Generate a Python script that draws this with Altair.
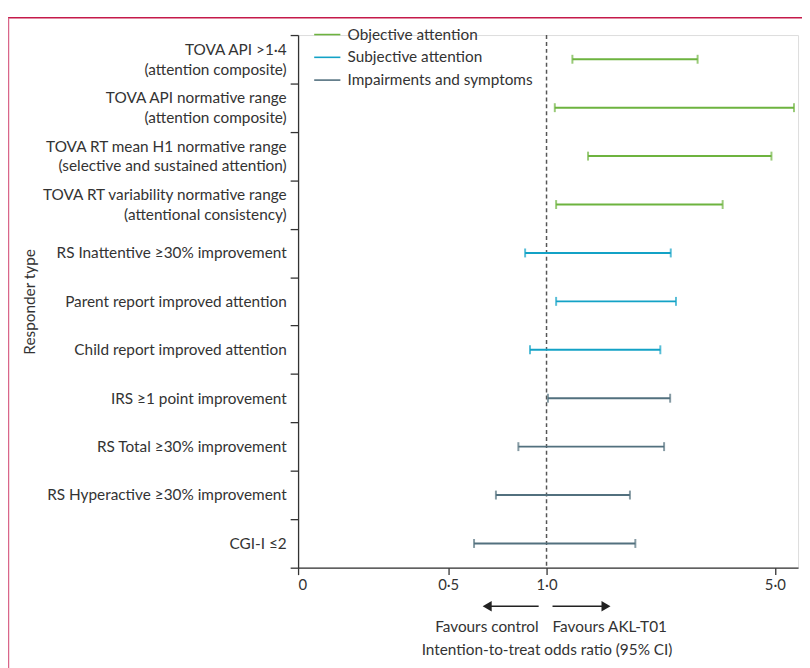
import altair as alt
import pandas as pd

categories = [
    "TOVA API >1·4\n(attention composite)",
    "TOVA API normative range\n(attention composite)",
    "TOVA RT mean H1 normative range\n(selective and sustained attention)",
    "TOVA RT variability normative range\n(attentional consistency)",
    "RS Inattentive ≥30% improvement",
    "Parent report improved attention",
    "Child report improved attention",
    "IRS ≥1 point improvement",
    "RS Total ≥30% improvement",
    "RS Hyperactive ≥30% improvement",
    "CGI-I ≤2",
]
groups = [
    "Objective attention", "Objective attention", "Objective attention", "Objective attention",
    "Subjective attention", "Subjective attention", "Subjective attention",
    "Impairments and symptoms", "Impairments and symptoms", "Impairments and symptoms",
    "Impairments and symptoms",
]
lows = [1.20, 1.06, 1.34, 1.07, 0.86, 1.07, 0.89, 1.01, 0.82, 0.70, 0.60]
highs = [2.90, 5.72, 4.88, 3.46, 2.40, 2.49, 2.23, 2.39, 2.29, 1.80, 1.87]

group_order = ["Objective attention", "Subjective attention", "Impairments and symptoms"]
group_colors = ["#6db33f", "#13a2c6", "#52707e"]

x_min, x_max = 0.1736, 5.886
tick_values = [x_min, 0.5, 1.0, 5.0]

df = pd.DataFrame({"label": categories, "group": groups, "low": lows, "high": highs})

FONT = "Lato"
FS = 15.5
TXT = "#333333"

xscale = alt.Scale(type="log", domain=[x_min, x_max], nice=False)
yscale = alt.Scale(type="band", paddingInner=0, paddingOuter=0)
color = alt.Color("group:N", scale=alt.Scale(domain=group_order, range=group_colors),
                  legend=alt.Legend(title=None, orient="none", legendX=15, legendY=-15,
                                    symbolType="stroke", symbolSize=700, symbolStrokeWidth=1.6,
                                    labelFont=FONT, labelFontSize=FS, labelColor=TXT,
                                    labelOffset=6, rowPadding=0, labelLimit=400))

xaxis = alt.Axis(values=tick_values, grid=False,
                 labelExpr="datum.value < 0.3 ? '0' : replace(format(datum.value, '.1f'), '.', '·')",
                 labelFont=FONT, labelFontSize=15, labelColor=TXT, labelPadding=3,
                 tickSize=7, tickColor="#333", domainColor="#333", domainWidth=1.3, tickWidth=1.3,
                 title="Intention-to-treat odds ratio (95% CI)", titleFont=FONT, titleFontSize=FS,
                 titleFontWeight="normal", titleColor=TXT, titleX=251, titleY=83,
                 titleBaseline="middle")
yaxis = alt.Axis(grid=False, tickBand="extent", labelExpr="split(datum.label, '\\n')",
                 labelOffset={"expr": "indexof(datum.label, '\\n') >= 0 ? -10 : 0"},
                 labelFont=FONT, labelFontSize=FS, labelColor=TXT, labelLineHeight=20,
                 labelPadding=4, labelLimit=400, tickSize=8, tickColor="#333",
                 domainColor="#333", domainWidth=1.3, tickWidth=1.3,
                 title="Responder type", titleFont=FONT, titleFontSize=FS, titleFontWeight="normal",
                 titleColor=TXT, titleX=-271, titleY=269, titleAngle=-90, titleBaseline="middle",
                 titleAlign="center")

base = alt.Chart(df)
cap_color = alt.Color("group:N", scale=alt.Scale(domain=group_order, range=group_colors), legend=None)

bars = base.mark_rule(strokeWidth=2).encode(
    x=alt.X("low:Q", scale=xscale, axis=xaxis),
    x2="high:Q",
    y=alt.Y("label:N", sort=categories, scale=yscale, axis=yaxis),
    color=color,
)
cap_lo = base.mark_tick(size=9, thickness=2).encode(
    x=alt.X("low:Q", scale=xscale), y=alt.Y("label:N", sort=categories, scale=yscale),
    color=cap_color)
cap_hi = base.mark_tick(size=9, thickness=2).encode(
    x=alt.X("high:Q", scale=xscale), y=alt.Y("label:N", sort=categories, scale=yscale),
    color=cap_color)

ref = alt.Chart(pd.DataFrame({"v": [1.0]})).mark_rule(
    color="#555", strokeDash=[4, 3], strokeWidth=1.5).encode(x=alt.X("v:Q", scale=xscale))

fav = pd.DataFrame({"v": [1.0, 1.0], "t": ["Favours control", "Favours AKL-T01"]})
fav_left = alt.Chart(fav.iloc[[0]]).mark_text(
    align="right", dx=-8, font=FONT, fontSize=FS, color=TXT, baseline="middle").encode(
    x=alt.X("v:Q", scale=xscale), y=alt.value(598), text="t:N")
fav_right = alt.Chart(fav.iloc[[1]]).mark_text(
    align="left", dx=6, font=FONT, fontSize=FS, color=TXT, baseline="middle").encode(
    x=alt.X("v:Q", scale=xscale), y=alt.value(598), text="t:N")

arrow_l = alt.Chart(fav.iloc[[0]]).mark_rule(color="#222", strokeWidth=1.5).encode(
    x=alt.value(243), x2=alt.value(194), y=alt.value(577))
arrow_r = alt.Chart(fav.iloc[[1]]).mark_rule(color="#222", strokeWidth=1.5).encode(
    x=alt.value(257), x2=alt.value(308), y=alt.value(577))
head_l = alt.Chart(fav.iloc[[0]]).mark_point(shape="triangle-left", filled=True, opacity=1,
                                             color="#222", size=110).encode(
    x=alt.value(191), y=alt.value(577))
head_r = alt.Chart(fav.iloc[[1]]).mark_point(shape="triangle-right", filled=True, opacity=1,
                                             color="#222", size=110).encode(
    x=alt.value(311), y=alt.value(577))

frame_top = alt.Chart(fav.iloc[[0]]).mark_rule(color="#c51a4a", strokeWidth=1.5).encode(
    x=alt.value(-293), x2=alt.value(520), y=alt.value(-17.5))
frame_left = alt.Chart(fav.iloc[[0]]).mark_rule(color="#d9668a", strokeWidth=1.5).encode(
    x=alt.value(-292.5), y=alt.value(-17.5), y2=alt.value(650))

chart = alt.layer(
    frame_top, frame_left, ref, bars, cap_lo, cap_hi, fav_left, fav_right,
    arrow_l, arrow_r, head_l, head_r
).properties(
    width=505, height=538,
    autosize=alt.AutoSizeParams(type="none"),
    padding={"left": 293, "top": 24, "right": 4, "bottom": 98},
).configure_view(stroke=None).configure(background="white")

chart.save("out.html", embed_options={"renderer": "svg", "actions": False})
